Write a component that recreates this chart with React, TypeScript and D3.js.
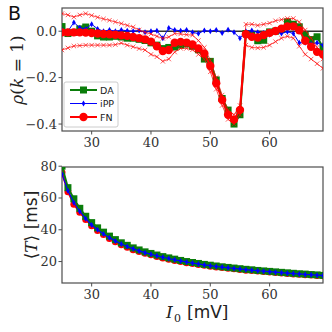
import { useEffect, useRef } from 'react'
import * as d3 from 'd3'

const currents = d3.range(25, 70)

const rhoDA = [0.02, -0.01, -0.005, 0.01, 0.018, 0.0, -0.02, -0.025, -0.025, -0.022, -0.025, -0.03, -0.03, -0.035, -0.04, -0.05, -0.06, -0.075,
  -0.07, -0.068, -0.06, -0.055, -0.065, -0.08, -0.12, -0.13, -0.21, -0.29, -0.34, -0.4, -0.36, -0.01, -0.017, -0.041, -0.039, -0.003, 0.0, 0.007, 0.04, 0.03, 0.019, -0.017, -0.036, -0.024, -0.07]
const rhoIPP = [0.005, 0.0, 0.038, 0.015, 0.01, 0.03, 0.01, 0.0, 0.005, 0.0, 0.005, 0.002, 0.0, 0.003, -0.005, 0.0, 0.002, -0.03,
  0.014, 0.005, 0.002, 0.005, -0.005, -0.01, 0.003, 0.0, 0.005, -0.008, 0.006, -0.005, -0.03, 0.0, 0.003, -0.005, -0.008, -0.015, -0.005, -0.01, -0.002, -0.01, -0.05, -0.05, -0.055, -0.05, -0.06]
const rhoFN = [-0.005, -0.005, -0.005, -0.005, -0.006, -0.008, -0.01, -0.012, -0.013, -0.015, -0.018, -0.02, -0.025, -0.03, -0.035, -0.045, -0.065, -0.085,
  -0.081, -0.05, -0.046, -0.049, -0.057, -0.074, -0.096, -0.15, -0.224, -0.296, -0.36, -0.381, -0.339, -0.013, -0.024, -0.027, -0.017, -0.007, 0.001, 0.011, 0.021, 0.021, 0.004, -0.041, -0.067, -0.089, -0.1]
const rhoFNUpper = [0.076, 0.07, 0.061, 0.07, 0.076, 0.068, 0.06, 0.053, 0.047, 0.04, 0.033, 0.025, 0.018, 0.005, -0.005, -0.012, -0.022, -0.031,
  -0.025, -0.01, -0.012, -0.015, -0.017, -0.04, -0.07, -0.125, -0.2, -0.275, -0.34, -0.36, -0.32, 0.03, 0.03, 0.025, 0.03, 0.035, 0.045, 0.05, 0.055, 0.055, 0.04, 0.005, -0.03, -0.07, -0.12]
const rhoFNLower = [-0.081, -0.072, -0.064, -0.062, -0.06, -0.06, -0.06, -0.06, -0.06, -0.058, -0.051, -0.06, -0.067, -0.075, -0.081, -0.1, -0.11, -0.13,
  -0.12, -0.09, -0.074, -0.074, -0.08, -0.1, -0.12, -0.175, -0.25, -0.32, -0.38, -0.4, -0.36, -0.06, -0.07, -0.072, -0.07, -0.06, -0.045, -0.03, -0.022, -0.03, -0.065, -0.1, -0.12, -0.14, -0.16]

const periodFN = [76, 64, 56, 51, 46.5, 42.5, 39.5, 37, 34.5, 32.5, 30.5, 29, 27.5, 26.3, 25.2, 24.2, 23.2, 22.3, 21.5, 20.7, 20, 19.3, 18.7,
  18.1, 17.6, 17.1, 16.6, 16.2, 15.8, 15.4, 15.0, 14.6, 14.3, 14.0, 13.7, 13.4, 13.1, 12.8, 12.5, 12.2, 12.0, 11.7, 11.5, 11.2, 11.0]
const periodDA = [80, 66.5, 59.5, 53.5, 48.5, 44.5, 41.2, 38.5, 36, 33.8, 31.8, 30.2, 28.6, 27.3, 26.1, 25.1, 24.1, 23.1, 22.3, 21.5, 20.7, 20, 19.4,
  18.8, 18.2, 17.7, 17.2, 16.7, 16.3, 15.9, 15.5, 15.1, 14.8, 14.4, 14.1, 13.8, 13.5, 13.2, 12.9, 12.6, 12.3, 12.1, 11.8, 11.6, 11.3]
const periodIPP = [75, 64.5, 57, 51.5, 47, 43, 40, 37.4, 35, 33, 31, 29.5, 28, 26.7, 25.6, 24.6, 23.6, 22.7, 21.9, 21.1, 20.4, 19.7, 19.1,
  18.5, 17.9, 17.4, 16.9, 16.5, 16.1, 15.7, 15.3, 14.9, 14.6, 14.2, 13.9, 13.6, 13.3, 13.0, 12.7, 12.4, 12.2, 11.9, 11.7, 11.4, 11.2]

const xTicks = [30, 40, 50, 60]
const rhoTicks = [0.0, -0.2, -0.4]
const periodTicks = [20, 40, 60, 80]
const legendNames = ['DA', 'iPP', 'FN']

const GREEN = '#0a7d0a'
const BLUE = '#0000ff'
const RED = '#ff0000'
const FRAME = '#4d4d4d'
const SERIF = "'DejaVu Serif', 'Liberation Serif', serif"
const SANS = "'DejaVu Sans', sans-serif"

function App() {
  const ref = useRef<SVGSVGElement>(null)

  useEffect(() => {
    const svg = d3.select(ref.current)
    svg.selectAll('*').remove()

    const left = 62
    const right = 323
    const x = d3.scaleLinear().domain([25, 69]).range([left, right])
    const yTop = d3.scaleLinear().domain([-0.43, 0.1]).range([131, 8])
    const yBot = d3.scaleLinear().domain([6.5, 79.5]).range([283, 167])

    const defs = svg.append('defs')
    defs.append('clipPath').attr('id', 'clip-top').append('rect')
      .attr('x', left).attr('y', 8).attr('width', right - left).attr('height', 123)
    defs.append('clipPath').attr('id', 'clip-bot').append('rect')
      .attr('x', left).attr('y', 167).attr('width', right - left).attr('height', 116)

    const drawAxes = (y: d3.ScaleLinear<number, number>, ticks: number[], fmt: (v: number) => string) => {
      const [b, t] = y.range()
      const g = svg.append('g')
      g.append('rect')
        .attr('x', left).attr('y', t).attr('width', right - left).attr('height', b - t)
        .attr('fill', 'none').attr('stroke', FRAME).attr('stroke-width', 1.2)
      xTicks.forEach(v => {
        g.append('line').attr('x1', x(v)).attr('x2', x(v)).attr('y1', b).attr('y2', b + 3.5)
          .attr('stroke', FRAME)
        g.append('text').attr('x', x(v)).attr('y', b + 16).attr('text-anchor', 'middle')
          .attr('font-family', SERIF).attr('font-size', 13).attr('fill', '#333').text(v)
      })
      ticks.forEach(v => {
        g.append('line').attr('x1', left - 3.5).attr('x2', left).attr('y1', y(v)).attr('y2', y(v))
          .attr('stroke', FRAME)
        g.append('text').attr('x', left - 5).attr('y', y(v) + 4.5).attr('text-anchor', 'end')
          .attr('font-family', SERIF).attr('font-size', 13).attr('fill', '#333').text(fmt(v))
      })
    }

    drawAxes(yTop, rhoTicks, v => d3.format('.1f')(v).replace('-', '\u2212'))
    drawAxes(yBot, periodTicks, v => String(v))

    // top panel
    const top = svg.append('g').attr('clip-path', 'url(#clip-top)')
    top.append('line').attr('x1', left).attr('x2', right).attr('y1', yTop(0)).attr('y2', yTop(0))
      .attr('stroke', '#333').attr('stroke-width', 1.5)

    const lineTop = d3.line<number>().x((_, i) => x(currents[i])).y(d => yTop(d))
    const lineBot = d3.line<number>().x((_, i) => x(currents[i])).y(d => yBot(d))

    const envelope = (g: d3.Selection<SVGGElement, unknown, null, undefined>, data: number[]) => {
      g.append('path').datum(data).attr('d', lineTop).attr('fill', 'none')
        .attr('stroke', RED).attr('stroke-width', 0.9).attr('opacity', 0.8)
      data.forEach((d, i) => {
        const cx = x(currents[i]), cy = yTop(d), s = 2.2
        g.append('path').attr('d', `M${cx - s},${cy - s}L${cx + s},${cy + s}M${cx - s},${cy + s}L${cx + s},${cy - s}`)
          .attr('stroke', RED).attr('stroke-width', 0.8).attr('opacity', 0.8)
      })
    }

    const squares = (g: d3.Selection<SVGGElement, unknown, null, undefined>, data: number[], y: d3.ScaleLinear<number, number>, s: number) => {
      g.append('g').selectAll('rect').data(data).enter().append('rect')
        .attr('x', (_, i) => x(currents[i]) - s / 2).attr('y', d => y(d) - s / 2)
        .attr('width', s).attr('height', s).attr('fill', GREEN)
    }
    const diamonds = (g: d3.Selection<SVGGElement, unknown, null, undefined>, data: number[], y: d3.ScaleLinear<number, number>, s: number) => {
      g.append('g').selectAll('path').data(data).enter().append('path')
        .attr('d', (d, i) => {
          const cx = x(currents[i]), cy = y(d)
          return `M${cx},${cy - s}L${cx + s * 0.6},${cy}L${cx},${cy + s}L${cx - s * 0.6},${cy}Z`
        })
        .attr('fill', BLUE)
    }
    const circles = (g: d3.Selection<SVGGElement, unknown, null, undefined>, data: number[], y: d3.ScaleLinear<number, number>, r: number) => {
      g.append('g').selectAll('circle').data(data).enter().append('circle')
        .attr('cx', (_, i) => x(currents[i])).attr('cy', d => y(d)).attr('r', r).attr('fill', RED)
    }

    top.append('path').datum(rhoDA).attr('d', lineTop).attr('fill', 'none').attr('stroke', GREEN).attr('stroke-width', 2)
    squares(top, rhoDA, yTop, 7)
    top.append('path').datum(rhoIPP).attr('d', lineTop).attr('fill', 'none').attr('stroke', BLUE).attr('stroke-width', 1)
    diamonds(top, rhoIPP, yTop, 3)
    envelope(top, rhoFNUpper)
    envelope(top, rhoFNLower)
    top.append('path').datum(rhoFN).attr('d', lineTop).attr('fill', 'none').attr('stroke', RED).attr('stroke-width', 2)
    circles(top, rhoFN, yTop, 4.2)

    // legend
    const lg = svg.append('g')
    lg.append('rect').attr('x', 64).attr('y', 82).attr('width', 54).attr('height', 45).attr('rx', 2)
      .attr('fill', 'white').attr('fill-opacity', 0.85).attr('stroke', '#ccc').attr('stroke-width', 1)
    legendNames.forEach((name, i) => {
      const ly = 90 + i * 13.5
      const color = [GREEN, BLUE, RED][i]
      lg.append('line').attr('x1', 70).attr('x2', 97).attr('y1', ly).attr('y2', ly)
        .attr('stroke', color).attr('stroke-width', i === 1 ? 1 : 2)
      if (i === 0) lg.append('rect').attr('x', 80).attr('y', ly - 3.5).attr('width', 7).attr('height', 7).attr('fill', GREEN)
      if (i === 1) lg.append('path').attr('d', `M83.5,${ly - 3}L85.3,${ly}L83.5,${ly + 3}L81.7,${ly}Z`).attr('fill', BLUE)
      if (i === 2) lg.append('circle').attr('cx', 83.5).attr('cy', ly).attr('r', 4.2).attr('fill', RED)
      lg.append('text').attr('x', 100).attr('y', ly + 3.5).attr('font-family', SANS).attr('font-size', 9.5)
        .attr('fill', '#222').text(name)
    })

    // bottom panel
    const bot = svg.append('g').attr('clip-path', 'url(#clip-bot)')
    bot.append('path').datum(periodFN).attr('d', lineBot).attr('fill', 'none').attr('stroke', RED).attr('stroke-width', 2)
    circles(bot, periodFN, yBot, 3.5)
    bot.append('path').datum(periodDA).attr('d', lineBot).attr('fill', 'none').attr('stroke', GREEN).attr('stroke-width', 2)
    squares(bot, periodDA, yBot, 7)
    bot.append('path').datum(periodIPP).attr('d', lineBot).attr('fill', 'none').attr('stroke', BLUE).attr('stroke-width', 1.2)
    diamonds(bot, periodIPP, yBot, 3)

    // labels
    svg.append('text').attr('x', 8).attr('y', 20).attr('font-family', SANS).attr('font-size', 19).attr('fill', '#111').text('B')
    svg.append('text').attr('transform', 'translate(23,70) rotate(-90)').attr('text-anchor', 'middle')
      .attr('font-family', SERIF).attr('font-size', 17).attr('fill', '#222')
      .html('<tspan font-style="italic">ρ</tspan>(<tspan font-style="italic">k</tspan> = 1)')
    svg.append('text').attr('transform', 'translate(37,225) rotate(-90)').attr('text-anchor', 'middle')
      .attr('font-family', SERIF).attr('font-size', 17).attr('fill', '#222')
      .html('⟨<tspan font-style="italic">T</tspan>⟩ [<tspan font-family="DejaVu Sans">ms</tspan>]')
    // x label built from separate pieces so the subscript sits cleanly
    const xl = svg.append('g').attr('font-family', SERIF).attr('fill', '#222')
    xl.append('text').attr('x', 166).attr('y', 318).attr('font-size', 17).attr('font-style', 'italic').text('I')
    xl.append('text').attr('x', 174).attr('y', 322).attr('font-size', 11).text('0')
    xl.append('text').attr('x', 187).attr('y', 318).attr('font-size', 17)
      .html('[<tspan font-family="DejaVu Sans">mV</tspan>]')
  }, [])

  return (
    <svg ref={ref} width={332} height={332} style={{ position: 'absolute', left: 0, top: 0, background: 'white' }} />
  )
}

export default App
